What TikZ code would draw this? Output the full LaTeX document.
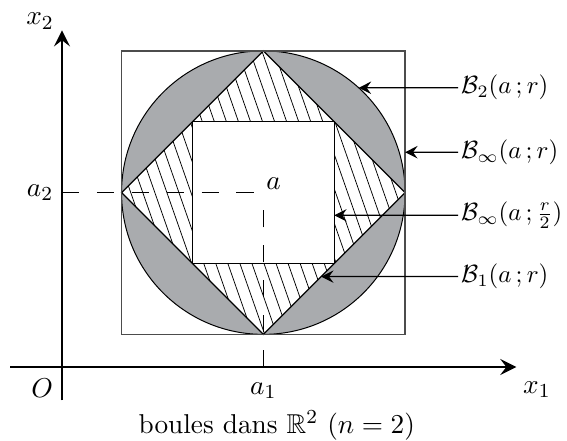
\documentclass[11pt,tikz,border=0pt]{standalone}
\usepackage{amsmath,amssymb}
\usetikzlibrary{arrows.meta}
\definecolor{gris}{RGB}{169,171,174}
\tikzset{
  axe/.style={line width=0.5pt, -{Stealth[length=6.5pt,width=6.5pt,inset=2.5pt]}},
  fleche/.style={line width=0.5pt, -{Stealth[length=5pt,width=5pt,inset=1.8pt]}},
  pointille/.style={line width=0.4pt, dash pattern=on 7pt off 7pt},
  hachure/.style={line width=0.3pt},
  etiq/.style={anchor=west, inner sep=1pt, font=\small},
}

\begin{document}
\begin{tikzpicture}
  \useasboundingbox (-0.875,-1.044) rectangle (7.125,5.178);
  % Boules de centre a dans le plan : B_1 (losange) dans B_2 (disque)
  % dans B_inf (carre) ; le petit carre est B_inf(a ; r/2).

  \coordinate (O) at (0,0);
  \coordinate (a) at (2.84,2.46);
  \coordinate (pa1) at (2.84,0);
  \coordinate (pa2) at (0,2.46);

  \begin{scope}[shift={(a)}]
    % --- B_2 : disque gris ---
    \fill[gris] (0,0) circle (2);
    % --- B_1 : losange blanc, hachure hors du petit carre ---
    \fill[white] (-2,0) -- (0,2) -- (2,0) -- (0,-2) -- cycle;
    \begin{scope}
      \clip (-2,0) -- (0,2) -- (2,0) -- (0,-2) -- cycle;
      \foreach \k in {-16,...,16}
        \draw[hachure] (\k*0.17-0.7,2) -- (\k*0.17+0.7,-2);
    \end{scope}
    % --- B_inf(a ; r/2) : petit carre blanc ---
    \filldraw[fill=white, line width=0.5pt] (-1,-1) rectangle (1,1);
    % --- contours ---
    \draw[line width=0.5pt] (-2,0) -- (0,2) -- (2,0) -- (0,-2) -- cycle;
    \draw[line width=0.4pt] (0,0) circle (2);
    \draw[line width=0.5pt, black!70] (-2,-2) rectangle (2,2);
    % points vises par les fleches
    \coordinate (t2) at (47.7:2);
    \coordinate (tinf) at (2,0.57);
    \coordinate (tdemi) at (1,-0.32);
    \coordinate (t1) at (0.815,-1.185);
  \end{scope}

  % --- coordonnees de a ---
  \draw[pointille] (pa2) -- (a);
  \draw[pointille] (pa1) -- (a);
  \node[anchor=south west, inner sep=1pt] (la) at (a) {$a$};

  % --- axes ---
  \coordinate (xdeb) at (-0.73,0);
  \coordinate (xfin) at (6.41,0);
  \coordinate (ydeb) at (0,-0.47);
  \coordinate (yfin) at (0,4.75);
  \draw[axe] (xdeb) -- (xfin);
  \draw[axe] (ydeb) -- (yfin);
  \node (lx1) at (6.70,-0.32) {$x_1$};
  \node (lx2) at (-0.31,4.88) {$x_2$};
  \node (lO) at (-0.28,-0.30) {$O$};
  \node (la1) at (2.84,-0.33) {$a_1$};
  \node (la2) at (-0.31,2.46) {$a_2$};

  % --- legendes ---
  \node[etiq] (lb2) at (5.59,3.94) {$\mathcal{B}_2(a\,;r)$};
  \node[etiq] (lbinf) at (5.59,3.03) {$\mathcal{B}_\infty(a\,;r)$};
  \node[etiq] (lbdemi) at (5.59,2.14) {$\mathcal{B}_\infty(a\,;\tfrac{r}{2})$};
  \node[etiq] (lb1) at (5.59,1.275) {$\mathcal{B}_1(a\,;r)$};
  \draw[fleche] (lb2) -- (t2);
  \draw[fleche] (lbinf) -- (tinf);
  \draw[fleche] (lbdemi) -- (tdemi);
  \draw[fleche] (lb1) -- (t1);

  \node (legende) at (3.03,-0.83) {boules dans $\mathbb{R}^2$ ($n=2$)};
\end{tikzpicture}
\end{document}
